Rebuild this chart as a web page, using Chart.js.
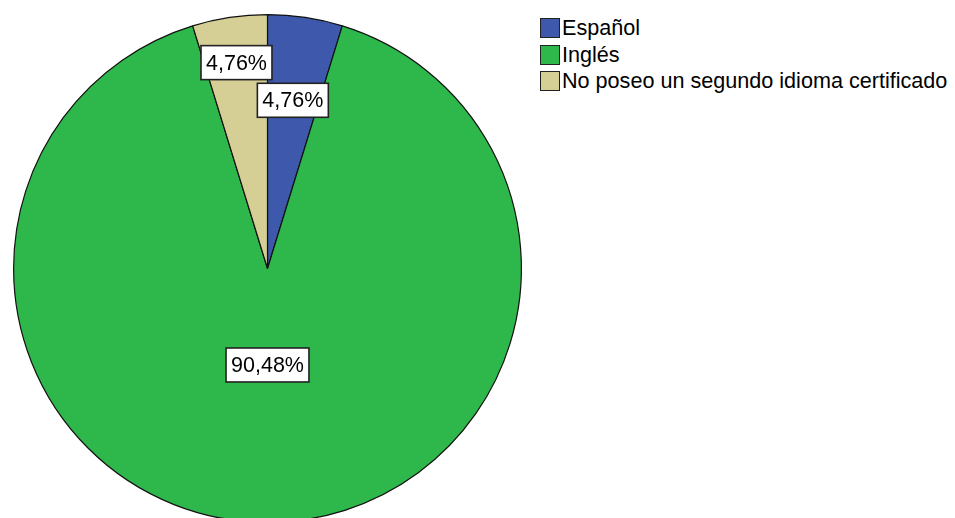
<!DOCTYPE html>
<html>
<head>
<meta charset="utf-8">
<script src="https://cdn.jsdelivr.net/npm/chart.js@4"></script>
<style>
  body { margin: 0; background: #fff; overflow: hidden; width: 955px; height: 518px; position: relative; }
  #wrap { position: absolute; left: 0; top: 0; width: 534px; height: 536px; }
  #legend { position: absolute; left: 540px; top: 15px; font-family: "Liberation Sans", Arial, sans-serif; font-size: 21.6px; color: #000; }
  .item { display: flex; align-items: center; height: 26.5px; }
  .box { width: 18px; height: 18px; border: 1.5px solid #222; margin-right: 2px; }
</style>
</head>
<body>
<div id="wrap"><canvas id="pieChart" width="534" height="536"></canvas></div>
<div id="legend"></div>
<script>
// Datos
const categorias = ['Español', 'Inglés', 'No poseo un segundo idioma certificado'];
const porcentajes = [4.76, 90.48, 4.76];
const colores = ['#3e58ac', '#2eb84c', '#d5cf96'];

// etiquetas en cajas blancas sobre cada sector
const labelRadius = [0.67, 0.38, 0.82];

const boxLabels = {
    id: 'boxLabels',
    afterDatasetsDraw(chart) {
        const ctx = chart.ctx;
        const meta = chart.getDatasetMeta(0);
        ctx.save();
        ctx.font = '21.5px "Liberation Sans", Arial, sans-serif';
        ctx.textAlign = 'center';
        ctx.textBaseline = 'middle';
        meta.data.forEach((arc, i) => {
            const p = arc.getProps(['x', 'y', 'startAngle', 'endAngle', 'outerRadius'], true);
            const mid = (p.startAngle + p.endAngle) / 2;
            const r = p.outerRadius * labelRadius[i];
            const x = p.x + Math.cos(mid) * r;
            const y = p.y + Math.sin(mid) * r;
            const txt = porcentajes[i].toFixed(2).replace('.', ',') + '%';
            const w = ctx.measureText(txt).width + 10;
            const h = 34;
            ctx.fillStyle = '#fff';
            ctx.fillRect(x - w / 2, y - h / 2, w, h);
            ctx.lineWidth = 1.6;
            ctx.strokeStyle = '#222';
            ctx.strokeRect(x - w / 2, y - h / 2, w, h);
            ctx.fillStyle = '#000';
            ctx.fillText(txt, x, y + 1);
        });
        ctx.restore();
    }
};

const pieChart = new Chart(document.getElementById('pieChart'), {
    type: 'pie',
    data: {
        labels: categorias,
        datasets: [{
            data: porcentajes,
            backgroundColor: colores,
            borderColor: '#111',
            borderWidth: 1.2,
            hoverOffset: 0,
            offset: 0
        }]
    },
    options: {
        responsive: false,
        animation: false,
        layout: { padding: { top: 14, bottom: 13, left: 13, right: 12 } },
        plugins: {
            legend: { display: false },
            tooltip: { enabled: false }
        }
    },
    plugins: [boxLabels]
});

// Leyenda
const legend = document.getElementById('legend');
categorias.forEach((c, i) => {
    const row = document.createElement('div');
    row.className = 'item';
    const b = document.createElement('div');
    b.className = 'box';
    b.style.background = colores[i];
    const t = document.createElement('span');
    t.textContent = c;
    row.appendChild(b);
    row.appendChild(t);
    legend.appendChild(row);
});
</script>
</body>
</html>
